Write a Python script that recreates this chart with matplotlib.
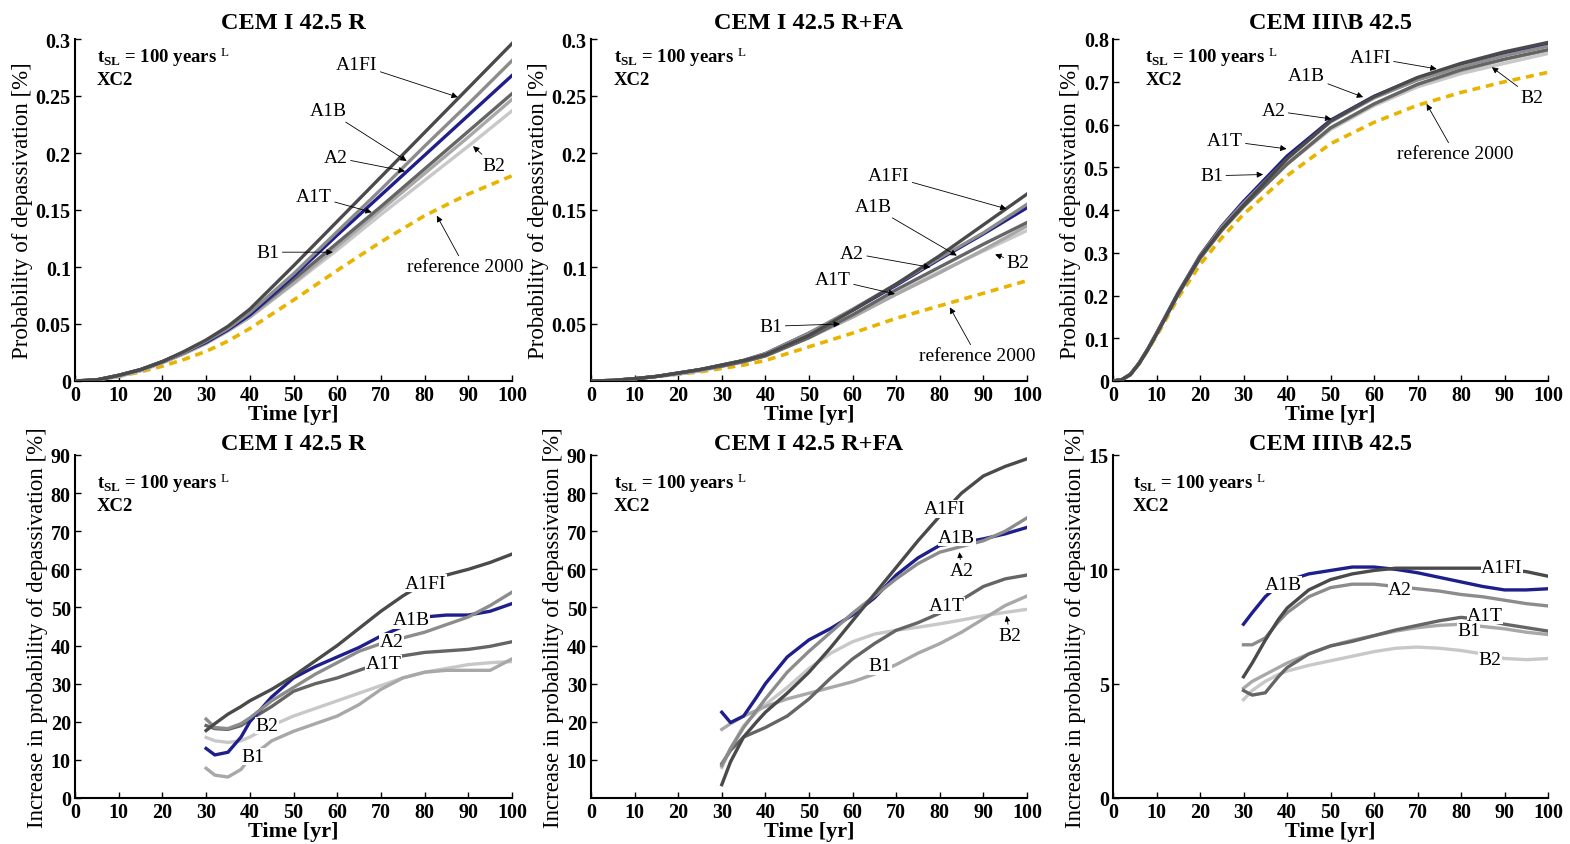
import numpy as np
import matplotlib
matplotlib.use('Agg')
import matplotlib.pyplot as plt
from matplotlib.ticker import FormatStrFormatter

plt.rcParams['font.family'] = ['Liberation Serif', 'DejaVu Serif']
plt.rcParams['mathtext.fontset'] = 'custom'
plt.rcParams['mathtext.rm'] = 'Liberation Serif'
plt.rcParams['mathtext.bf'] = 'Liberation Serif:bold'
plt.rcParams['mathtext.it'] = 'Liberation Serif:italic'

scenarios = ['A1FI', 'A1B', 'A2', 'A1T', 'B1', 'B2']
colors = {'A1FI': '#4a4a4a', 'A1B': '#1e1e8c', 'A2': '#8c8c8c',
          'A1T': '#656565', 'B1': '#a8a8a8', 'B2': '#c8c8c8'}
ref_color = '#e8b400'
titles = ['CEM I 42.5 R', 'CEM I 42.5 R+FA', 'CEM III\\B 42.5']

# ---- top row: probability of depassivation [%] ----
t_top = [0, 5, 10, 15, 20, 25, 30, 35, 40, 50, 60, 70, 80, 90, 100]

r_ref  = [0, 0.001, 0.004, 0.008, 0.013, 0.019, 0.026, 0.035, 0.046, 0.071, 0.097, 0.122, 0.145, 0.164, 0.180]
r_a1fi = [0, 0.001, 0.005, 0.010, 0.017, 0.026, 0.036, 0.048, 0.063, 0.101, 0.140, 0.179, 0.218, 0.257, 0.296]
r_a1b  = [0, 0.001, 0.005, 0.010, 0.017, 0.025, 0.034, 0.045, 0.058, 0.092, 0.128, 0.163, 0.198, 0.233, 0.268]
r_a2   = [0, 0.001, 0.005, 0.010, 0.017, 0.025, 0.035, 0.046, 0.060, 0.094, 0.131, 0.168, 0.206, 0.243, 0.281]
r_a1t  = [0, 0.001, 0.005, 0.010, 0.017, 0.025, 0.034, 0.045, 0.058, 0.089, 0.121, 0.153, 0.186, 0.219, 0.252]
r_b1   = [0, 0.001, 0.004, 0.009, 0.016, 0.024, 0.033, 0.044, 0.056, 0.086, 0.118, 0.150, 0.182, 0.214, 0.247]
r_b2   = [0, 0.001, 0.004, 0.009, 0.016, 0.024, 0.033, 0.044, 0.056, 0.085, 0.115, 0.146, 0.176, 0.206, 0.237]

fa_ref  = [0, 0.0005, 0.002, 0.004, 0.006, 0.008, 0.011, 0.014, 0.018, 0.030, 0.042, 0.055, 0.066, 0.077, 0.088]
fa_a1fi = [0, 0.0005, 0.002, 0.004, 0.007, 0.010, 0.014, 0.018, 0.023, 0.040, 0.062, 0.085, 0.110, 0.137, 0.164]
fa_a1b  = [0, 0.0005, 0.002, 0.004, 0.007, 0.010, 0.014, 0.018, 0.024, 0.042, 0.062, 0.084, 0.107, 0.129, 0.152]
fa_a2   = [0, 0.0005, 0.002, 0.004, 0.007, 0.010, 0.014, 0.018, 0.024, 0.042, 0.063, 0.085, 0.108, 0.130, 0.155]
fa_a1t  = [0, 0.0005, 0.002, 0.004, 0.007, 0.010, 0.013, 0.017, 0.022, 0.038, 0.058, 0.080, 0.100, 0.120, 0.139]
fa_b1   = [0, 0.0005, 0.002, 0.004, 0.006, 0.009, 0.013, 0.017, 0.022, 0.038, 0.056, 0.076, 0.095, 0.115, 0.136]
fa_b2   = [0, 0.0005, 0.002, 0.004, 0.006, 0.009, 0.013, 0.017, 0.022, 0.039, 0.058, 0.077, 0.096, 0.114, 0.132]

t_slag = [0, 2, 4, 6, 8, 10, 15, 20, 25, 30, 40, 50, 60, 70, 80, 90, 100]
s_ref  = [0, 0.003, 0.015, 0.040, 0.072, 0.105, 0.195, 0.272, 0.335, 0.390, 0.480, 0.555, 0.605, 0.645, 0.675, 0.700, 0.722]
s_a1fi = [0, 0.003, 0.015, 0.041, 0.074, 0.110, 0.205, 0.290, 0.355, 0.411, 0.520, 0.608, 0.665, 0.710, 0.743, 0.770, 0.792]
s_a1b  = [0, 0.003, 0.016, 0.042, 0.075, 0.112, 0.207, 0.293, 0.362, 0.420, 0.526, 0.610, 0.666, 0.709, 0.739, 0.764, 0.788]
s_a2   = [0, 0.003, 0.016, 0.042, 0.075, 0.111, 0.206, 0.292, 0.360, 0.416, 0.519, 0.606, 0.662, 0.704, 0.735, 0.761, 0.783]
s_a1t  = [0, 0.003, 0.015, 0.041, 0.073, 0.109, 0.203, 0.287, 0.353, 0.408, 0.507, 0.592, 0.648, 0.694, 0.728, 0.753, 0.775]
s_b1   = [0, 0.003, 0.015, 0.041, 0.073, 0.109, 0.203, 0.287, 0.353, 0.409, 0.508, 0.592, 0.648, 0.693, 0.726, 0.752, 0.774]
s_b2   = [0, 0.003, 0.015, 0.041, 0.073, 0.109, 0.202, 0.286, 0.351, 0.407, 0.507, 0.588, 0.644, 0.688, 0.719, 0.743, 0.766]

# ---- bottom row: increase in probability of depassivation [%] ----
t_bot = [30, 32, 35, 38, 40, 45, 50, 55, 60, 65, 70, 75, 80, 85, 90, 95, 100]

ir_a1fi = [17.7, 19.5, 22.0, 24.0, 25.5, 28.5, 32.0, 36.0, 40.0, 44.5, 49.0, 53.0, 56.5, 58.5, 60.0, 61.8, 64.0]
ir_a1b  = [13.0, 11.3, 12.0, 16.0, 20.0, 26.5, 31.5, 34.5, 37.0, 39.5, 42.5, 45.0, 47.5, 48.0, 48.0, 49.0, 51.0]
ir_a2   = [20.7, 18.5, 18.2, 19.5, 21.0, 25.5, 29.0, 32.5, 35.5, 38.5, 40.5, 42.0, 43.5, 45.5, 47.5, 50.5, 54.0]
ir_a1t  = [19.0, 18.2, 18.0, 19.0, 20.5, 24.0, 28.0, 30.0, 31.5, 33.5, 35.5, 37.3, 38.2, 38.6, 39.0, 39.8, 41.0]
ir_b1   = [7.8, 6.0, 5.5, 7.5, 10.5, 15.0, 17.5, 19.5, 21.5, 24.5, 28.5, 31.5, 33.0, 33.5, 33.5, 33.5, 36.5]
ir_b2   = [15.9, 15.0, 14.6, 15.0, 16.0, 19.0, 21.5, 23.5, 25.5, 27.5, 29.5, 31.5, 33.0, 34.0, 35.0, 35.5, 35.8]

ifa_a1fi = [3.5, 9.5, 16.0, 20.0, 22.5, 27.5, 33.0, 39.5, 46.5, 53.5, 60.5, 67.5, 74.0, 80.0, 84.5, 87.0, 89.0]
ifa_a1b  = [22.5, 19.8, 21.5, 26.5, 30.0, 37.0, 41.5, 44.5, 48.0, 52.5, 58.5, 63.0, 66.3, 67.0, 68.0, 69.3, 71.0]
ifa_a2   = [8.5, 13.0, 18.5, 23.0, 26.0, 33.0, 38.5, 43.5, 48.5, 53.0, 57.5, 61.5, 64.5, 66.0, 67.5, 70.0, 73.5]
ifa_a1t  = [9.0, 12.5, 16.0, 17.5, 18.5, 21.5, 26.0, 31.5, 36.5, 40.5, 44.0, 46.0, 48.5, 52.0, 55.5, 57.5, 58.5]
ifa_b1   = [18.0, 19.5, 21.5, 23.0, 24.0, 26.0, 27.5, 29.0, 30.5, 32.5, 35.0, 38.0, 40.5, 43.5, 47.0, 50.5, 53.0]
ifa_b2   = [8.0, 13.0, 19.0, 22.5, 24.5, 29.0, 34.0, 38.0, 41.0, 43.0, 44.0, 44.8, 45.7, 46.7, 47.8, 48.7, 49.5]

is_a1fi = [5.3, 5.9, 6.9, 7.8, 8.3, 9.1, 9.55, 9.8, 9.95, 10.05, 10.05, 10.05, 10.05, 10.05, 10.0, 9.9, 9.7]
is_a1b  = [7.6, 8.1, 8.8, 9.3, 9.5, 9.8, 9.95, 10.1, 10.1, 10.0, 9.85, 9.65, 9.45, 9.25, 9.1, 9.1, 9.15]
is_a2   = [6.7, 6.7, 7.0, 7.7, 8.1, 8.8, 9.2, 9.35, 9.35, 9.25, 9.15, 9.05, 8.9, 8.8, 8.65, 8.5, 8.4]
is_a1t  = [4.7, 4.5, 4.6, 5.3, 5.7, 6.3, 6.65, 6.85, 7.1, 7.35, 7.55, 7.75, 7.9, 7.8, 7.6, 7.45, 7.3]
is_b1   = [4.8, 5.1, 5.4, 5.7, 5.9, 6.3, 6.65, 6.9, 7.1, 7.3, 7.45, 7.55, 7.6, 7.5, 7.4, 7.25, 7.15]
is_b2   = [4.3, 4.7, 5.1, 5.4, 5.55, 5.8, 6.0, 6.2, 6.4, 6.55, 6.6, 6.55, 6.45, 6.3, 6.1, 6.05, 6.1]

top_sets = [
    (t_top, r_ref, dict(zip(scenarios, [r_a1fi, r_a1b, r_a2, r_a1t, r_b1, r_b2]))),
    (t_top, fa_ref, dict(zip(scenarios, [fa_a1fi, fa_a1b, fa_a2, fa_a1t, fa_b1, fa_b2]))),
    (t_slag, s_ref, dict(zip(scenarios, [s_a1fi, s_a1b, s_a2, s_a1t, s_b1, s_b2]))),
]
bot_sets = [
    dict(zip(scenarios, [ir_a1fi, ir_a1b, ir_a2, ir_a1t, ir_b1, ir_b2])),
    dict(zip(scenarios, [ifa_a1fi, ifa_a1b, ifa_a2, ifa_a1t, ifa_b1, ifa_b2])),
    dict(zip(scenarios, [is_a1fi, is_a1b, is_a2, is_a1t, is_b1, is_b2])),
]

# label text position, arrow tip (top row)
top_labels = [
    {'A1FI': ((64.5, 0.278), (87.6, 0.249)), 'A1B': ((57.9, 0.237), (75.9, 0.193)),
     'A2': ((59.7, 0.196), (75.5, 0.184)), 'A1T': ((54.7, 0.162), (67.9, 0.148)),
     'B1': ((44.2, 0.113), (59.0, 0.113)), 'B2': ((95.9, 0.189), (91.1, 0.206)),
     'reference 2000': ((89.2, 0.100), (82.8, 0.145))},
    {'A1FI': ((68.3, 0.180), (95.3, 0.151)), 'A1B': ((64.7, 0.153), (83.9, 0.110)),
     'A2': ((59.9, 0.112), (77.8, 0.0997)), 'A1T': ((55.5, 0.089), (69.7, 0.0763)),
     'B1': ((41.3, 0.048), (57.1, 0.050)), 'B2': ((97.9, 0.104), (92.7, 0.111)),
     'reference 2000': ((88.5, 0.022), (82.3, 0.0646))},
    {'A1FI': ((59.1, 0.757), (74.4, 0.730)), 'A1B': ((44.5, 0.714), (57.5, 0.664)),
     'A2': ((36.9, 0.632), (50.2, 0.613)), 'A1T': ((25.7, 0.562), (39.9, 0.543)),
     'B1': ((22.7, 0.480), (34.5, 0.483)), 'B2': ((96.3, 0.664), (87.1, 0.734)),
     'reference 2000': ((78.6, 0.531), (72.1, 0.648))},
]
# inline label positions (bottom row); optional arrow tip
bot_labels = [
    {'A1FI': (80.3, 56.4), 'A1B': (77.0, 46.8), 'A2': (72.5, 41.0),
     'A1T': (70.6, 35.2), 'B2': (43.9, 19.0), 'B1': (40.8, 10.9)},
    {'A1FI': (81.2, 75.9), 'A1B': (83.9, 68.4), 'A2': (85.0, 59.6),
     'A1T': (81.6, 50.5), 'B1': (66.3, 34.7), 'B2': (96.1, 42.6)},
    {'A1FI': (89.4, 10.07), 'A1B': (39.2, 9.34), 'A2': (66.0, 9.12),
     'A1T': (85.5, 7.98), 'B1': (81.7, 7.34), 'B2': (86.7, 6.05)},
]
bot_arrows = {1: {'A2': (84.5, 64.5), 'B2': (95.3, 47.8)}}

top_ylims = [(0, 0.3), (0, 0.3), (0, 0.8)]
top_yticks = [[0, 0.05, 0.1, 0.15, 0.2, 0.25, 0.3],
              [0.05, 0.1, 0.15, 0.2, 0.25, 0.3],
              [0, 0.1, 0.2, 0.3, 0.4, 0.5, 0.6, 0.7, 0.8]]
bot_ylims = [(0, 90), (0, 90), (0, 15)]
bot_yticks = [[0, 10, 20, 30, 40, 50, 60, 70, 80, 90],
              [10, 20, 30, 40, 50, 60, 70, 80, 90],
              [0, 5, 10, 15]]

W, H = 1570, 845
fig = plt.figure(figsize=(W / 100, H / 100), dpi=100)
col_left = [75, 591, 1113]
col_w = [437, 436, 435]


def style_axes(ax, yticks, ylim):
    ax.set_xlim(0, 100)
    ax.set_ylim(*ylim)
    ax.set_xticks(range(0, 101, 10))
    ax.set_yticks(yticks)
    ax.yaxis.set_major_formatter(FormatStrFormatter('%g'))
    for s in ['top', 'right']:
        ax.spines[s].set_visible(False)
    for s in ['left', 'bottom']:
        ax.spines[s].set_linewidth(1.5)
    ax.tick_params(direction='in', length=4, width=1, labelsize=14.5, pad=3)
    for lab in ax.get_xticklabels() + ax.get_yticklabels():
        lab.set_fontweight('bold')
    ax.set_xlabel('Time [yr]', fontsize=16, fontweight='bold', labelpad=-1)


def header(ax, x0, y0, dy):
    ax.text(x0, y0, r'$\mathbf{t_{SL}}$ = 100 years $^{\mathrm{L}}$', transform=ax.transAxes,
            fontsize=13.5, fontweight='bold', va='center', ha='left')
    ax.text(x0, y0 - dy, 'XC2', transform=ax.transAxes,
            fontsize=13.5, fontweight='bold', va='center', ha='left')


draw_order = ['B2', 'B1', 'A1T', 'A1B', 'A2', 'A1FI']

for i in range(3):
    # top
    ax = fig.add_axes([col_left[i] / W, 1 - 382 / H, col_w[i] / W, 342 / H])
    t, ref, curves = top_sets[i]
    ax.plot(t, ref, color=ref_color, lw=2.6, dashes=(2.2, 1.6), zorder=2)
    for name in draw_order:
        ax.plot(t, curves[name], color=colors[name], lw=2.4, zorder=3)
    for name, (txt, tip) in top_labels[i].items():
        ax.annotate(name, xy=tip, xytext=txt, fontsize=14, ha='center', va='center',
                    arrowprops=dict(arrowstyle='-|>', color='black', lw=0.6,
                                    mutation_scale=9, shrinkA=0, shrinkB=0), zorder=6)
    style_axes(ax, top_yticks[i], top_ylims[i])
    ax.set_ylabel('Probability of depassivation [%]', fontsize=16.5, labelpad=2)
    ax.set_title(titles[i], fontsize=17.5, fontweight='bold', pad=8)
    header(ax, [0.05, 0.053, 0.074][i], 0.95, 0.067)

    # bottom
    ax = fig.add_axes([col_left[i] / W, 1 - 799 / H, col_w[i] / W, 343 / H])
    curves = bot_sets[i]
    for name in draw_order:
        ax.plot(t_bot, curves[name], color=colors[name], lw=2.4, zorder=3)
    for name, pos in bot_labels[i].items():
        tip = bot_arrows.get(i, {}).get(name)
        if tip is None:
            ax.text(pos[0], pos[1], name, fontsize=14, ha='center', va='center', zorder=6,
                    bbox=dict(fc='white', ec='none', pad=0.3))
        else:
            ax.annotate(name, xy=tip, xytext=pos, fontsize=14, ha='center', va='center',
                        arrowprops=dict(arrowstyle='-|>', color='black', lw=0.6,
                                        mutation_scale=8, shrinkA=0, shrinkB=0), zorder=6)
    style_axes(ax, bot_yticks[i], bot_ylims[i])
    ax.set_ylabel('Increase in probability of depassivation [%]', fontsize=16.5, labelpad=2)
    ax.set_title(titles[i], fontsize=17.5, fontweight='bold', pad=4)
    header(ax, [0.05, 0.053, 0.046][i], 0.921, 0.067)

fig.savefig('out.png', dpi=100)
